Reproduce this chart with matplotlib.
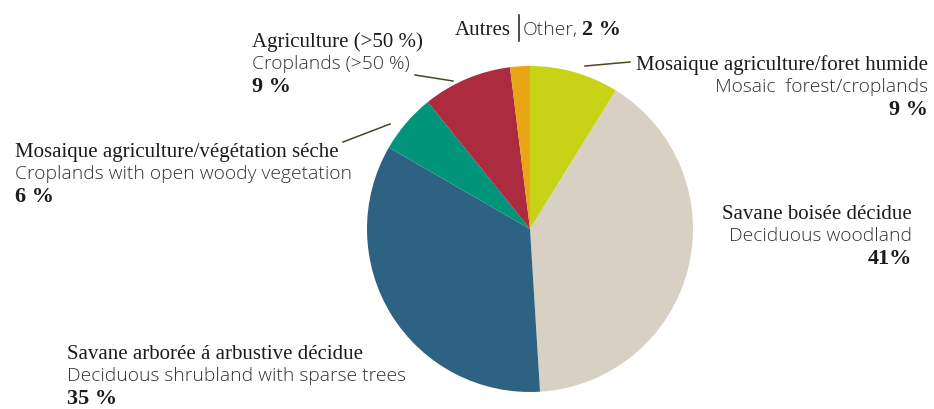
import matplotlib.pyplot as plt
from matplotlib.patches import Wedge

W, H = 934, 410

# land cover shares, clockwise from the top
fr_labels = ['Mosaique agriculture/foret humide', 'Savane boisée décidue',
             'Savane arborée á arbustive décidue', 'Mosaique agriculture/végétation séche',
             'Agriculture (>50 %)', 'Autres']
en_labels = ['Mosaic  forest/croplands', 'Deciduous woodland',
             'Deciduous shrubland with sparse trees', 'Croplands with open woody vegetation',
             'Croplands (>50 %)', 'Other,']
values = [9, 41, 35, 6, 9, 2]
pct_sep = [' ', '', ' ', ' ', ' ', ' ']
colors = ['#C8D217', '#D8D0C3', '#2E6282', '#00957A', '#AC2B3E', '#E8A614']

SERIF = 'Liberation Serif'
SANS = 'Open Sans'
INK = '#1c1c1c'
GREY = '#333333'
LEAD = '#4d4526'
FS_FR, FS_EN, FS_PCT = 15, 13.9, 16

fig = plt.figure(figsize=(W / 100, H / 100), dpi=100)
ax = fig.add_axes([0, 0, 1, 1])
ax.set_xlim(0, W)
ax.set_ylim(H, 0)
ax.axis('off')

# pie wedges from the values (y axis points down here)
cx, cy, r = 530, 230, 163
total = sum(values)
ang = -90.0
for v, c in zip(values, colors):
    span = v / total * 360
    ax.add_patch(Wedge((cx, cy), r, ang, ang + span, facecolor=c, edgecolor='none'))
    ang += span


def block(i, x, y, ha):
    ax.text(x, y, fr_labels[i], family=SERIF, fontsize=FS_FR, color=INK, ha=ha, va='baseline')
    ax.text(x, y + 22, en_labels[i], family=SANS, fontweight='light', fontsize=FS_EN,
            color=GREY, ha=ha, va='baseline')
    ax.text(x, y + 45, f'{values[i]}{pct_sep[i]}%', family=SERIF, fontweight='bold',
            fontsize=FS_PCT, color=INK, ha=ha, va='baseline')


block(0, 928, 70, 'right')
block(1, 912, 219, 'right')
block(2, 67, 359, 'left')
block(3, 15, 157, 'left')
block(4, 252, 47, 'left')

# leader lines
for (x0, y0), (x1, y1) in [((585, 67), (630, 63)), ((415, 76), (453, 82)),
                           ((343, 143), (390, 125))]:
    ax.plot([x0, x1], [y0, y1], color=LEAD, lw=1.1)

# "Autres | Other, 2 %" on one line
fig.canvas.draw()
rend = fig.canvas.get_renderer()
inv = ax.transData.inverted()
x, y = 455, 35
t = ax.text(x, y, fr_labels[5], family=SERIF, fontsize=FS_FR, color=INK, va='baseline')
x = inv.transform(t.get_window_extent(rend).get_points())[1][0] + 8
ax.plot([x, x], [y - 19, y + 7], color=INK, lw=1.1)
x += 4
t = ax.text(x, y, en_labels[5], family=SANS, fontweight='light', fontsize=FS_EN, color=GREY,
            va='baseline')
x = inv.transform(t.get_window_extent(rend).get_points())[1][0] + 4
ax.text(x, y, f'{values[5]}{pct_sep[5]}%', family=SERIF, fontweight='bold', fontsize=FS_PCT,
        color=INK, va='baseline')

fig.savefig('out.png', dpi=100, facecolor='white')
